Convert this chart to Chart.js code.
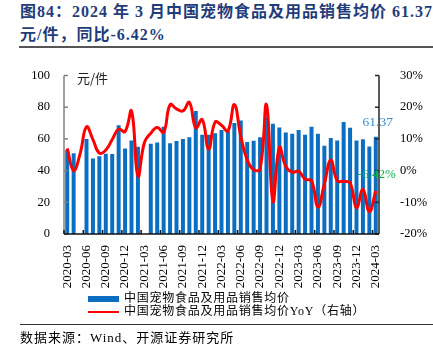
<!DOCTYPE html>
<html><head><meta charset="utf-8">
<script src="https://cdn.jsdelivr.net/npm/chart.js@4.4.0/dist/chart.umd.min.js"></script>
<style>
html,body{margin:0;padding:0;background:#fff;width:433px;height:356px;overflow:hidden;position:relative}
.title{position:absolute;left:20px;font-family:'Liberation Serif','Noto Sans CJK SC',serif;font-weight:bold;font-size:16px;color:#1f3d7a;letter-spacing:1px;white-space:nowrap;line-height:20px}
#t1{top:2px}
#t2{top:25px}
#rule1{position:absolute;left:19px;right:0;top:46px;height:2px;background:#555}
#chartBox{position:absolute;left:0;top:55px;width:433px;height:240px}
.leg{position:absolute;left:124px;font-family:'Liberation Serif','Noto Sans CJK SC',serif;font-size:12px;letter-spacing:0.75px;line-height:14px;white-space:nowrap;color:#000}
#l1{top:291px}
#l2{top:304px}
#sw1{position:absolute;left:88px;top:296px;width:31px;height:6px;background:#0a6fc2}
#sw2{position:absolute;left:88px;top:310.5px;width:31px;height:2.5px;background:#ff0000}
#rule2{position:absolute;left:20px;right:0;top:323.5px;height:1.5px;background:#333}
#src{position:absolute;left:20px;top:330px;font-family:'Liberation Serif','Noto Sans CJK SC',serif;font-size:13px;letter-spacing:1px;line-height:16px;white-space:nowrap;color:#000}
</style>
</head><body>
<div class="title" id="t1">图84：2024 年 3 月中国宠物食品及用品销售均价 61.37</div>
<div class="title" id="t2">元/件，同比-6.42%</div>
<div id="rule1"></div>
<div id="chartBox"><canvas id="c" width="433" height="240"></canvas></div>
<div id="sw1"></div><div class="leg" id="l1">中国宠物食品及用品销售均价</div>
<div id="sw2"></div><div class="leg" id="l2">中国宠物食品及用品销售均价YoY（右轴）</div>
<div id="rule2"></div>
<div id="src">数据来源：Wind、开源证券研究所</div>
<script>
const months = ['2020-03','2020-04','2020-05','2020-06','2020-07','2020-08','2020-09','2020-10','2020-11','2020-12',
  '2021-01','2021-02','2021-03','2021-04','2021-05','2021-06','2021-07','2021-08','2021-09','2021-10','2021-11','2021-12',
  '2022-01','2022-02','2022-03','2022-04','2022-05','2022-06','2022-07','2022-08','2022-09','2022-10','2022-11','2022-12',
  '2023-01','2023-02','2023-03','2023-04','2023-05','2023-06','2023-07','2023-08','2023-09','2023-10','2023-11','2023-12',
  '2024-01','2024-02','2024-03'];
const avgPrice = [53,51,null,60,47.6,49,50.6,50.4,68.6,54,
  59,55,null,57,57.8,67.6,57.2,58.6,60,61,77.6,62.6,
  62.6,63.6,65.6,65,70,71.6,58,58.8,61,73.6,69.6,67.2,
  64,63.2,65.6,62.6,67.6,63.2,55.6,60.6,59,70.6,67,59,
  59.8,55.2,61.37];
const priceYoY = [7,0,5.3,13.8,9.8,5.5,6.5,9.8,13.1,12.3,
  18.8,-1.7,8.8,11.8,13.6,12.1,20.8,19.5,18.8,21.5,13.5,16.1,
  6.8,15.3,14.3,12.5,20.8,10.8,3.3,0.3,0.5,20.8,-9.7,7.3,
  1.3,-0.5,-0.2,-2.7,-3.2,-11.5,-4.2,3.3,-3.2,-3.4,-3.9,-11.7,
  -5.9,-12.9,-6.42];
const leftTicks = [0,20,40,60,80,100];
const rightTicks = [-20,-10,0,10,20,30];
const unitLabel = '元/件';
const lastPriceLabel = '61.37';
const lastYoYLabel = '-6.42%';

const serif = "'Liberation Serif','Noto Sans CJK SC',serif";

const axesPlugin = {
  id: 'axesDraw',
  afterDatasetsDraw(chart) {
    const {ctx, chartArea: a, scales} = chart;
    const x = scales.x, y = scales.y, y1 = scales.y1;
    const ln = (x0, y0, x1, y2) => { ctx.beginPath(); ctx.moveTo(x0, y0); ctx.lineTo(x1, y2); ctx.stroke(); };
    ctx.save();
    ctx.lineWidth = 1.5;
    ctx.strokeStyle = '#808080';
    ln(a.left, a.top, a.left, a.bottom);
    leftTicks.forEach(v => { const p = y.getPixelForValue(v); ln(a.left, p, a.left + 4, p); });
    ctx.strokeStyle = '#262626';
    ln(a.right, a.top, a.right, a.bottom);
    rightTicks.forEach(v => { const p = y1.getPixelForValue(v); ln(a.right - 4, p, a.right, p); });
    ctx.strokeStyle = '#111';
    ln(a.left, a.bottom, a.right, a.bottom);
    const half = (x.getPixelForValue(1) - x.getPixelForValue(0)) / 2;
    for (let k = 0; k < months.length; k += 3) {
      const p = x.getPixelForValue(k) - half;
      ln(p, a.bottom, p, a.bottom - 4);
    }
    // unit label
    ctx.fillStyle = '#222';
    ctx.font = "13px 'Noto Sans CJK SC', sans-serif";
    ctx.textBaseline = 'middle';
    ctx.textAlign = 'left';
    ctx.fillText(unitLabel, a.left + 13, a.top + 3);
    // data labels
    const bm = chart.getDatasetMeta(0).data[months.length - 1];
    const lm = chart.getDatasetMeta(1).data[months.length - 1];
    ctx.textAlign = 'center';
    ctx.font = "13.5px " + serif;
    ctx.fillStyle = '#3b8bcb';
    ctx.fillText(lastPriceLabel, bm.x + 2, bm.y - 14);
    ctx.font = "13px " + serif;
    ctx.fillStyle = '#00b050';
    ctx.fillText(lastYoYLabel, lm.x + 1, lm.y - 16.5);
    ctx.restore();
  }
};

new Chart(document.getElementById('c'), {
  data: {
    labels: months,
    datasets: [
      {type: 'bar', data: avgPrice, backgroundColor: '#0a6fc2', yAxisID: 'y', order: 2,
       barPercentage: 0.62, categoryPercentage: 1},
      {type: 'line', data: priceYoY, borderColor: '#ff0000', borderWidth: 3, pointRadius: 0,
       tension: 0.45, yAxisID: 'y1', order: 1, fill: false}
    ]
  },
  options: {
    responsive: false, animation: false,
    layout: {padding: {top: 13, left: 0, right: 0, bottom: 0}},
    plugins: {legend: {display: false}, tooltip: {enabled: false}},
    scales: {
      x: {
        grid: {display: false}, border: {display: false},
        ticks: {autoSkip: false, maxRotation: 90, minRotation: 90, padding: 3, color: '#000',
          font: {family: serif, size: 13},
          callback: (v, i) => (i % 3 === 0 ? months[i] : '')},
        afterFit(s) { s.height = 61; }
      },
      y: {
        position: 'left', min: 0, max: 100,
        grid: {display: false}, border: {display: false},
        ticks: {stepSize: 20, padding: 6, color: '#000', font: {family: serif, size: 12.5}},
        afterFit(s) { s.width = 64; }
      },
      y1: {
        position: 'right', min: -20, max: 30,
        grid: {display: false}, border: {display: false},
        ticks: {stepSize: 10, padding: 13, color: '#000', font: {family: serif, size: 12.5},
          callback: v => v + '%'},
        afterFit(s) { s.width = 54; }
      }
    }
  },
  plugins: [axesPlugin]
});
</script>
</body></html>
